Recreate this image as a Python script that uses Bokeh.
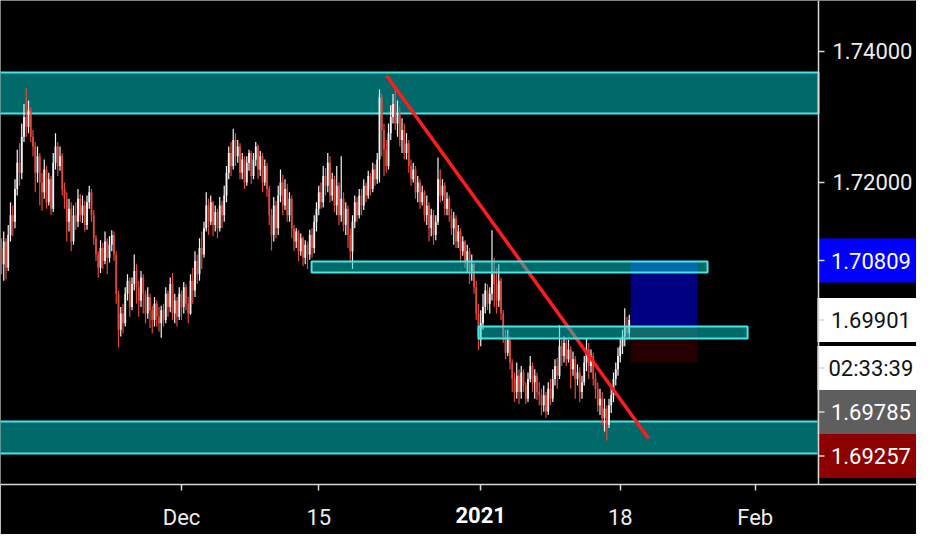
from bokeh.plotting import figure
from bokeh.models import ColumnDataSource, FixedTicker, LinearAxis, Span
from bokeh.core.properties import value
from bokeh.embed import file_html
from bokeh.resources import INLINE

FONT = "Roboto"
FONT_SIZE = "22px"

# 4h candles
first_open = 1.7100
closes = [
    1.7075, 1.7110, 1.7070, 1.7120, 1.7150, 1.7140, 1.7190, 1.7230, 1.7215, 1.7270,
    1.7300, 1.7285, 1.7310, 1.7270, 1.7255, 1.7215, 1.7240, 1.7200, 1.7185, 1.7220,
    1.7170, 1.7205, 1.7160, 1.7230, 1.7255, 1.7225, 1.7240, 1.7190, 1.7175, 1.7140,
    1.7160, 1.7110, 1.7150, 1.7140, 1.7175, 1.7150, 1.7165, 1.7135, 1.7170, 1.7185,
    1.7150, 1.7115, 1.7090, 1.7070, 1.7100, 1.7080, 1.7110, 1.7085, 1.7105, 1.7120,
    1.7090, 1.7030, 1.6975, 1.7000, 1.6985, 1.7030, 1.7050, 1.7010, 1.7045, 1.7065,
    1.7040, 1.7020, 1.7055, 1.7030, 1.7000, 1.7025, 1.7005, 1.6990, 1.7015, 1.6995,
    1.6985, 1.7005, 1.6990, 1.7030, 1.7010, 1.7045, 1.7000, 1.7020, 1.6995, 1.7030,
    1.7010, 1.7040, 1.7015, 1.7000, 1.7050, 1.7035, 1.7080, 1.7060, 1.7100, 1.7090,
    1.7130, 1.7165, 1.7140, 1.7170, 1.7135, 1.7155, 1.7130, 1.7165, 1.7150, 1.7180,
    1.7215, 1.7245, 1.7225, 1.7265, 1.7240, 1.7255, 1.7215, 1.7235, 1.7200, 1.7230,
    1.7245, 1.7210, 1.7235, 1.7255, 1.7220, 1.7240, 1.7200, 1.7225, 1.7190, 1.7150,
    1.7120, 1.7165, 1.7130, 1.7180, 1.7200, 1.7165, 1.7190, 1.7150, 1.7175, 1.7130,
    1.7110, 1.7125, 1.7095, 1.7115, 1.7085, 1.7105, 1.7090, 1.7120, 1.7100, 1.7140,
    1.7160, 1.7185, 1.7170, 1.7210, 1.7195, 1.7230, 1.7180, 1.7205, 1.7165, 1.7195,
    1.7150, 1.7175, 1.7135, 1.7160, 1.7120, 1.7095, 1.7140, 1.7170, 1.7150, 1.7180,
    1.7165, 1.7195, 1.7180, 1.7210, 1.7190, 1.7220, 1.7205, 1.7235, 1.7330, 1.7280,
    1.7250, 1.7225, 1.7275, 1.7300, 1.7320, 1.7290, 1.7305, 1.7265, 1.7280, 1.7245,
    1.7260, 1.7225, 1.7205, 1.7220, 1.7185, 1.7200, 1.7170, 1.7185, 1.7150, 1.7165,
    1.7130, 1.7150, 1.7120, 1.7140, 1.7205, 1.7180, 1.7195, 1.7160, 1.7175, 1.7150,
    1.7130, 1.7145, 1.7110, 1.7125, 1.7095, 1.7110, 1.7080, 1.7095, 1.7065, 1.7075,
    1.7040, 1.7000, 1.6960, 1.6985, 1.7010, 1.7035, 1.7015, 1.7030, 1.7060, 1.7045,
    1.7020, 1.7050, 1.7000, 1.6965, 1.6940, 1.6960, 1.6925, 1.6900, 1.6880, 1.6905,
    1.6880, 1.6910, 1.6890, 1.6870, 1.6900, 1.6920, 1.6895, 1.6905, 1.6880, 1.6875,
    1.6860, 1.6875, 1.6850, 1.6885, 1.6870, 1.6900, 1.6920, 1.6905, 1.6950, 1.6935,
    1.6955, 1.6930, 1.6945, 1.6915, 1.6930, 1.6900, 1.6910, 1.6880, 1.6895, 1.6925,
    1.6945, 1.6920, 1.6935, 1.6900, 1.6885, 1.6860, 1.6870, 1.6840, 1.6855, 1.6830,
    1.6860, 1.6875, 1.6900, 1.6915, 1.6935, 1.6950, 1.6965, 1.6980, 1.6970, 1.69901,
]
highs = [
    1.7115, 1.7125, 1.7115, 1.7135, 1.7170, 1.7165, 1.7205, 1.7250, 1.7260, 1.7290,
    1.7320, 1.7344, 1.7325, 1.7315, 1.7280, 1.7262, 1.7255, 1.7245, 1.7215, 1.7235,
    1.7225, 1.7215, 1.7210, 1.7245, 1.7275, 1.7262, 1.7255, 1.7245, 1.7200, 1.7185,
    1.7175, 1.7170, 1.7165, 1.7170, 1.7190, 1.7182, 1.7180, 1.7172, 1.7180, 1.7195,
    1.7190, 1.7158, 1.7120, 1.7095, 1.7112, 1.7108, 1.7125, 1.7115, 1.7118, 1.7127,
    1.7125, 1.7095, 1.7035, 1.7010, 1.7015, 1.7040, 1.7060, 1.7055, 1.7055, 1.7090,
    1.7075, 1.7050, 1.7065, 1.7060, 1.7035, 1.7040, 1.7030, 1.7012, 1.7025, 1.7020,
    1.7010, 1.7012, 1.7015, 1.7040, 1.7035, 1.7055, 1.7062, 1.7030, 1.7025, 1.7040,
    1.7035, 1.7048, 1.7045, 1.7025, 1.7060, 1.7070, 1.7095, 1.7090, 1.7115, 1.7125,
    1.7140, 1.7185, 1.7175, 1.7180, 1.7172, 1.7165, 1.7160, 1.7178, 1.7172, 1.7195,
    1.7225, 1.7255, 1.7262, 1.7282, 1.7275, 1.7265, 1.7260, 1.7245, 1.7240, 1.7240,
    1.7250, 1.7248, 1.7245, 1.7262, 1.7258, 1.7248, 1.7245, 1.7235, 1.7230, 1.7195,
    1.7160, 1.7178, 1.7172, 1.7195, 1.7220, 1.7212, 1.7205, 1.7198, 1.7185, 1.7180,
    1.7135, 1.7130, 1.7128, 1.7122, 1.7118, 1.7112, 1.7110, 1.7128, 1.7130, 1.7150,
    1.7170, 1.7195, 1.7200, 1.7225, 1.7222, 1.7245, 1.7240, 1.7215, 1.7210, 1.7225,
    1.7200, 1.7240, 1.7185, 1.7170, 1.7165, 1.7130, 1.7150, 1.7180, 1.7178, 1.7190,
    1.7190, 1.7205, 1.7200, 1.7218, 1.7215, 1.7230, 1.7228, 1.7245, 1.7342, 1.7335,
    1.7290, 1.7265, 1.7290, 1.7318, 1.7335, 1.7348, 1.7325, 1.7315, 1.7298, 1.7290,
    1.7275, 1.7265, 1.7235, 1.7230, 1.7225, 1.7210, 1.7205, 1.7195, 1.7188, 1.7180,
    1.7170, 1.7160, 1.7158, 1.7150, 1.7238, 1.7220, 1.7205, 1.7200, 1.7185, 1.7180,
    1.7160, 1.7155, 1.7150, 1.7135, 1.7130, 1.7118, 1.7112, 1.7105, 1.7100, 1.7090,
    1.7080, 1.7050, 1.7015, 1.7005, 1.7030, 1.7046, 1.7045, 1.7040, 1.7127, 1.7085,
    1.7070, 1.7075, 1.7055, 1.7005, 1.6975, 1.6975, 1.6965, 1.6930, 1.6910, 1.6925,
    1.6915, 1.6920, 1.6915, 1.6895, 1.6910, 1.6935, 1.6925, 1.6915, 1.6910, 1.6895,
    1.6885, 1.6890, 1.6880, 1.6895, 1.6900, 1.6915, 1.6930, 1.6932, 1.6982, 1.6960,
    1.6965, 1.6962, 1.6960, 1.6950, 1.6942, 1.6935, 1.6922, 1.6918, 1.6905, 1.6935,
    1.6962, 1.6955, 1.6945, 1.6940, 1.6910, 1.6895, 1.6885, 1.6880, 1.6870, 1.6860,
    1.6870, 1.6890, 1.6910, 1.6925, 1.6948, 1.6962, 1.6975, 1.7008, 1.6995, 1.6998,
]
lows = [
    1.7060, 1.7050, 1.7052, 1.7065, 1.7110, 1.7118, 1.7130, 1.7180, 1.7195, 1.7205,
    1.7262, 1.7270, 1.7275, 1.7262, 1.7240, 1.7185, 1.7200, 1.7165, 1.7157, 1.7175,
    1.7160, 1.7165, 1.7150, 1.7155, 1.7220, 1.7210, 1.7218, 1.7180, 1.7160, 1.7110,
    1.7125, 1.7095, 1.7105, 1.7128, 1.7132, 1.7140, 1.7138, 1.7125, 1.7128, 1.7160,
    1.7140, 1.7105, 1.7080, 1.7055, 1.7062, 1.7068, 1.7075, 1.7060, 1.7078, 1.7095,
    1.7080, 1.7015, 1.6948, 1.6965, 1.6970, 1.6980, 1.7020, 1.6995, 1.7005, 1.7035,
    1.7015, 1.6995, 1.7010, 1.7000, 1.6985, 1.6992, 1.6978, 1.6970, 1.6980, 1.6980,
    1.6972, 1.6963, 1.6980, 1.6985, 1.6995, 1.7002, 1.6990, 1.6985, 1.6980, 1.6990,
    1.6990, 1.7000, 1.7005, 1.6985, 1.6998, 1.7015, 1.7025, 1.7045, 1.7050, 1.7068,
    1.7085, 1.7125, 1.7120, 1.7135, 1.7118, 1.7125, 1.7115, 1.7125, 1.7130, 1.7140,
    1.7170, 1.7205, 1.7210, 1.7220, 1.7225, 1.7230, 1.7205, 1.7205, 1.7190, 1.7195,
    1.7218, 1.7198, 1.7205, 1.7225, 1.7205, 1.7210, 1.7185, 1.7195, 1.7178, 1.7135,
    1.7096, 1.7110, 1.7115, 1.7120, 1.7170, 1.7150, 1.7158, 1.7140, 1.7140, 1.7115,
    1.7095, 1.7100, 1.7080, 1.7088, 1.7072, 1.7075, 1.7068, 1.7082, 1.7085, 1.7092,
    1.7125, 1.7150, 1.7160, 1.7162, 1.7180, 1.7185, 1.7170, 1.7172, 1.7155, 1.7150,
    1.7135, 1.7140, 1.7125, 1.7120, 1.7100, 1.7080, 1.7068, 1.7130, 1.7140, 1.7145,
    1.7150, 1.7158, 1.7170, 1.7175, 1.7180, 1.7185, 1.7195, 1.7198, 1.7200, 1.7240,
    1.7210, 1.7215, 1.7220, 1.7265, 1.7290, 1.7280, 1.7270, 1.7255, 1.7245, 1.7235,
    1.7235, 1.7215, 1.7195, 1.7200, 1.7175, 1.7170, 1.7160, 1.7165, 1.7140, 1.7135,
    1.7110, 1.7118, 1.7105, 1.7112, 1.7135, 1.7170, 1.7172, 1.7150, 1.7150, 1.7140,
    1.7120, 1.7105, 1.7100, 1.7100, 1.7080, 1.7088, 1.7070, 1.7062, 1.7045, 1.7050,
    1.7030, 1.6990, 1.6944, 1.6950, 1.6975, 1.7000, 1.7005, 1.7000, 1.7020, 1.7010,
    1.7000, 1.7010, 1.6990, 1.6955, 1.6930, 1.6935, 1.6915, 1.6880, 1.6865, 1.6870,
    1.6862, 1.6870, 1.6880, 1.6862, 1.6865, 1.6895, 1.6880, 1.6870, 1.6868, 1.6860,
    1.6845, 1.6850, 1.6841, 1.6845, 1.6860, 1.6865, 1.6890, 1.6885, 1.6900, 1.6920,
    1.6925, 1.6920, 1.6925, 1.6885, 1.6905, 1.6870, 1.6890, 1.6865, 1.6870, 1.6890,
    1.6912, 1.6900, 1.6910, 1.6890, 1.6870, 1.6850, 1.6845, 1.6830, 1.6820, 1.6806,
    1.6825, 1.6848, 1.6865, 1.6890, 1.6905, 1.6925, 1.6938, 1.6950, 1.6960, 1.6962,
]

date_ticks = [80, 141, 213, 275, 335]
date_labels = ["Dec", "15", "2021", "18", "Feb"]
price_ticks = [1.74, 1.72]

# price scale sits at this bar index; the tags column is to its right
AXIS_X = 363.11
TAG_X = 386.4

# wide support / resistance zones (under the candles)
band_top = [1.73679, 1.68351]
band_bottom = [1.73053, 1.67863]
# narrow zones (drawn over the candles)
zone_start = [137.8, 212.0]
zone_end = [313.8, 331.6]
zone_top = [1.70794, 1.69802]
zone_bottom = [1.70626, 1.69618]

trend_x = [171.1, 287.6]
trend_y = [1.73634, 1.68092]

# long position tool
pos_start, pos_end = 279.6, 309.3
target, entry, stop = 1.70809, 1.69785, 1.69257
last_price = 1.69901
countdown = "02:33:39"

Y_TOP, Y_BOTTOM = 1.747786, 1.673893
FRAME_H = 484


def price_at(px):
    # price at a pixel row of the frame (for the stacked tags)
    return Y_TOP - px * (Y_TOP - Y_BOTTOM) / FRAME_H


tag_text = [f"{target:.5f}", f"{last_price:.5f}", countdown, f"{entry:.5f}", f"{stop:.5f}"]
tag_y = [target, last_price, price_at(367.5), price_at(411.5), price_at(455.5)]
tag_bg = ["#0000ff", "#ffffff", "#ffffff", "#5e5e5e", "#8c0000"]
tag_fg = ["#ffffff", "#131313", "#131313", "#ffffff", "#ffffff"]

idx = list(range(len(closes)))
opens = [first_open] + closes[:-1]
up = "#f4f4f4"
down = "#e2483c"
src = ColumnDataSource(dict(
    x=idx,
    high=[max(h, o, c) for h, o, c in zip(highs, opens, closes)],
    low=[min(l, o, c) for l, o, c in zip(lows, opens, closes)],
    top=[max(o, c) for o, c in zip(opens, closes)],
    bottom=[min(o, c) for o, c in zip(opens, closes)],
    color=[up if c >= o else down for o, c in zip(opens, closes)],
))

p = figure(
    width=916, height=534,
    x_range=(-0.444, 406.667), y_range=(Y_BOTTOM, Y_TOP),
    output_backend="svg", toolbar_location=None,
    y_axis_location=None,
    background_fill_color="black", border_fill_color="black",
    min_border_left=0, min_border_top=0, min_border_right=0,
    min_border_bottom=50,
)
p.outline_line_color = None
p.grid.visible = False

teal = "#00d4d4"
cyan = "#45e6e6"
p.quad(left=[-50, -50], right=[AXIS_X, AXIS_X], top=band_top, bottom=band_bottom,
       fill_color=teal, fill_alpha=0.5, line_color=cyan, line_width=2)

p.segment(x0="x", y0="low", x1="x", y1="high", color="color", line_width=1.2, source=src)
p.vbar(x="x", width=0.8, top="top", bottom="bottom", fill_color="color",
       line_color=None, source=src)

p.line(trend_x, trend_y, line_color="#ff1c1c", line_width=3.5)

p.quad(left=[pos_start], right=[pos_end], top=[target], bottom=[entry],
       fill_color="#0000ff", fill_alpha=0.5, line_color=None)
p.quad(left=[pos_start], right=[pos_end], top=[entry], bottom=[stop],
       fill_color="#ff0000", fill_alpha=0.15, line_color=None)

p.quad(left=zone_start, right=zone_end, top=zone_top, bottom=zone_bottom,
       fill_color=teal, fill_alpha=0.5, line_color=cyan, line_width=2)

# price scale
axis_grey = "#d8d8d8"
p.add_layout(Span(location=AXIS_X, dimension="height", line_color=axis_grey, line_width=1.5))
p.text(x=[AXIS_X] * len(price_ticks), y=price_ticks,
       text=[f"{v:.5f}" for v in price_ticks], x_offset=14,
       text_align="left", text_baseline="middle", text_font=value(FONT),
       text_font_size=FONT_SIZE, text_color="#ececec")
p.rect(x=[TAG_X] * len(tag_y), y=tag_y, width=107, height=44,
       width_units="screen", height_units="screen",
       fill_color=tag_bg, line_color=None)
p.text(x=[TAG_X] * len(tag_y), y=tag_y, text=tag_text,
       text_align="center", text_baseline="middle", text_font=value(FONT),
       text_font_size=FONT_SIZE, text_color=tag_fg)
p.ray(x=[AXIS_X] * (len(price_ticks) + len(tag_y)), y=price_ticks + tag_y,
      length=6, length_units="screen", angle=0, line_color=axis_grey, line_width=1.5)

# time axis
xa = p.xaxis[0]
xa.ticker = FixedTicker(ticks=date_ticks)
xa.major_label_overrides = {t: ("" if l == "2021" else l) for t, l in zip(date_ticks, date_labels)}
xa.axis_line_color = axis_grey
xa.axis_line_width = 1.5
xa.major_tick_line_color = axis_grey
xa.major_tick_line_width = 1.5
xa.major_tick_in = 0
xa.major_tick_out = 6
xa.minor_tick_line_color = None
xa.major_label_standoff = 14
xa.major_label_text_font = FONT
xa.major_label_text_font_size = FONT_SIZE
xa.major_label_text_color = "#ececec"

# year label in bold, pulled up onto the same row as the other dates
year_tick = date_ticks[date_labels.index("2021")]
ya = LinearAxis(ticker=FixedTicker(ticks=[year_tick]),
                major_label_overrides={year_tick: "2021"})
ya.axis_line_color = None
ya.major_tick_line_color = None
ya.minor_tick_line_color = None
ya.major_tick_in = 0
ya.major_tick_out = 0
ya.major_label_standoff = -26
ya.major_label_text_font = FONT
ya.major_label_text_font_size = FONT_SIZE
ya.major_label_text_font_style = "bold"
ya.major_label_text_color = "#ffffff"
p.add_layout(ya, "below")

open("out.html", "w").write(file_html(p, INLINE))
